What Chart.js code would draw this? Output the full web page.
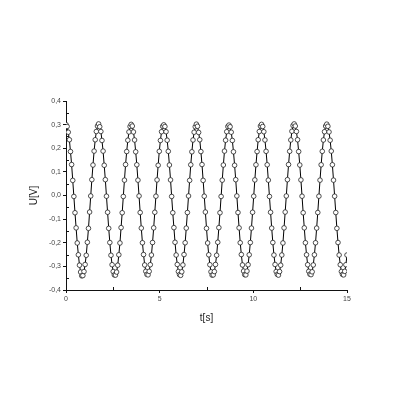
<!DOCTYPE html>
<html>
<head>
<meta charset="utf-8">
<script src="https://cdn.jsdelivr.net/npm/chart.js@4/dist/chart.umd.min.js"></script>
<style>
  html, body { margin: 0; padding: 0; background: #fff; }
  #plot { display: block; }
</style>
</head>
<body>
<canvas id="plot" width="400" height="400"></canvas>
<script>
// sampled signal, one reading every 0.06 s starting at t = 0
const sampleStep = 0.06;
const voltage = [
  0.300, 0.292, 0.268, 0.236, 0.186, 0.131, 0.064, -0.004, -0.073, -0.137, -0.201, -0.251, -0.295, -0.324, -0.340, -0.339, -0.322, -0.292, -0.253, -0.198, -0.139, -0.070, -0.002, 0.067, 0.129, 0.188, 0.236, 0.271, 0.294,
  0.303, 0.291, 0.271, 0.233, 0.188, 0.128, 0.067, -0.003, -0.071, -0.139, -0.199, -0.253, -0.293, -0.322, -0.336, -0.337, -0.324, -0.295, -0.251, -0.201, -0.136, -0.073, -0.004, 0.065, 0.131, 0.186, 0.234, 0.269, 0.292,
  0.301, 0.294, 0.269, 0.235, 0.185, 0.130, 0.065, -0.002, -0.072, -0.138, -0.200, -0.250, -0.294, -0.321, -0.334, -0.336, -0.321, -0.293, -0.252, -0.199, -0.137, -0.071, -0.003, 0.066, 0.128, 0.187, 0.233, 0.270, 0.293,
  0.299, 0.292, 0.270, 0.234, 0.187, 0.129, 0.066, -0.004, -0.073, -0.136, -0.198, -0.252, -0.292, -0.322, -0.335, -0.338, -0.323, -0.294, -0.250, -0.200, -0.138, -0.072, -0.002, 0.064, 0.130, 0.185, 0.235, 0.268, 0.291,
  0.302, 0.293, 0.267, 0.236, 0.186, 0.131, 0.064, -0.003, -0.070, -0.139, -0.201, -0.251, -0.293, -0.323, -0.337, -0.336, -0.322, -0.292, -0.253, -0.198, -0.136, -0.073, -0.004, 0.065, 0.129, 0.188, 0.234, 0.270, 0.292,
  0.298, 0.291, 0.268, 0.233, 0.185, 0.128, 0.067, -0.002, -0.072, -0.137, -0.200, -0.250, -0.294, -0.320, -0.335, -0.336, -0.320, -0.293, -0.251, -0.199, -0.138, -0.071, -0.003, 0.066, 0.130, 0.186, 0.236, 0.271, 0.294,
  0.301, 0.292, 0.270, 0.235, 0.187, 0.130, 0.065, -0.004, -0.071, -0.138, -0.199, -0.252, -0.292, -0.322, -0.334, -0.337, -0.322, -0.295, -0.252, -0.201, -0.137, -0.070, -0.002, 0.067, 0.131, 0.187, 0.235, 0.272, 0.296,
  0.303, 0.294, 0.271, 0.236, 0.186, 0.129, 0.066, -0.003, -0.073, -0.137, -0.200, -0.251, -0.293, -0.321, -0.333, -0.335, -0.323, -0.294, -0.251, -0.200, -0.138, -0.072, -0.003, 0.065, 0.130, 0.187, 0.235, 0.270, 0.294,
  0.302, 0.293, 0.269, 0.234, 0.188, 0.130, 0.065, -0.003, -0.072, -0.139, -0.199, -0.252, -0.293, -0.322, -0.334, -0.336, -0.321, -0.293, -0.252
];

const xTitle = "t[s]";
const yTitle = "U[V]";
const xMin = 0, xMax = 15, xStep = 5;
const yMin = -0.4, yMax = 0.4, yStep = 0.1;

const points = voltage.map((v, i) => ({ x: i * sampleStep, y: v }));

const tickFont = { family: "Arial, 'Liberation Sans', sans-serif", size: 7 };
const titleFont = { family: "Arial, 'Liberation Sans', sans-serif", size: 10 };

// short inward minor ticks halfway between the labelled ones
const minorTicks = {
  id: "minorTicks",
  afterDraw(chart) {
    const { ctx, scales: { x, y } } = chart;
    ctx.save();
    ctx.strokeStyle = "#111";
    ctx.lineWidth = 1;
    ctx.beginPath();
    for (let v = xMin + xStep / 2; v < xMax; v += xStep) {
      const px = Math.round(x.getPixelForValue(v)) + 0.5;
      ctx.moveTo(px, y.bottom);
      ctx.lineTo(px, y.bottom - 3);
    }
    for (let v = yMin + yStep / 2; v < yMax; v += yStep) {
      const py = Math.round(y.getPixelForValue(v)) + 0.5;
      ctx.moveTo(x.left, py);
      ctx.lineTo(x.left + 3, py);
    }
    ctx.stroke();
    ctx.restore();
  }
};

new Chart(document.getElementById("plot"), {
  type: "line",
  data: {
    datasets: [{
      data: points,
      borderColor: "#000",
      borderWidth: 1,
      pointRadius: 2.3,
      pointBorderWidth: 0.8,
      pointBorderColor: "#222",
      pointBackgroundColor: "#fff",
      tension: 0,
    }],
  },
  options: {
    responsive: false,
    animation: false,
    devicePixelRatio: 1,
    layout: { padding: { left: 28, right: 53, top: 101, bottom: 76 } },
    plugins: { legend: { display: false }, tooltip: { enabled: false } },
    scales: {
      x: {
        type: "linear",
        min: xMin,
        max: xMax,
        afterFit: s => { s.height = 34; },
        border: { display: true, color: "#111", width: 1 },
        grid: { drawOnChartArea: false, drawTicks: true, tickLength: 3, color: "#111" },
        ticks: { stepSize: xStep, font: tickFont, color: "#444", padding: 2, maxRotation: 0 },
        title: { display: true, text: xTitle, font: titleFont, color: "#222", padding: 0 },
      },
      y: {
        type: "linear",
        min: yMin,
        max: yMax,
        afterFit: s => { s.width = 38; },
        border: { display: true, color: "#111", width: 1 },
        grid: { drawOnChartArea: false, drawTicks: true, tickLength: 3, color: "#111" },
        ticks: {
          stepSize: yStep,
          font: tickFont,
          color: "#444",
          padding: 2,
          callback: v => {
            const r = Math.abs(v) < 1e-9 ? 0 : v;
            return r.toFixed(1).replace(".", ",");
          },
        },
        title: { display: true, text: yTitle, font: titleFont, color: "#222", padding: 0 },
      },
    },
  },
  plugins: [minorTicks],
});
</script>
</body>
</html>
